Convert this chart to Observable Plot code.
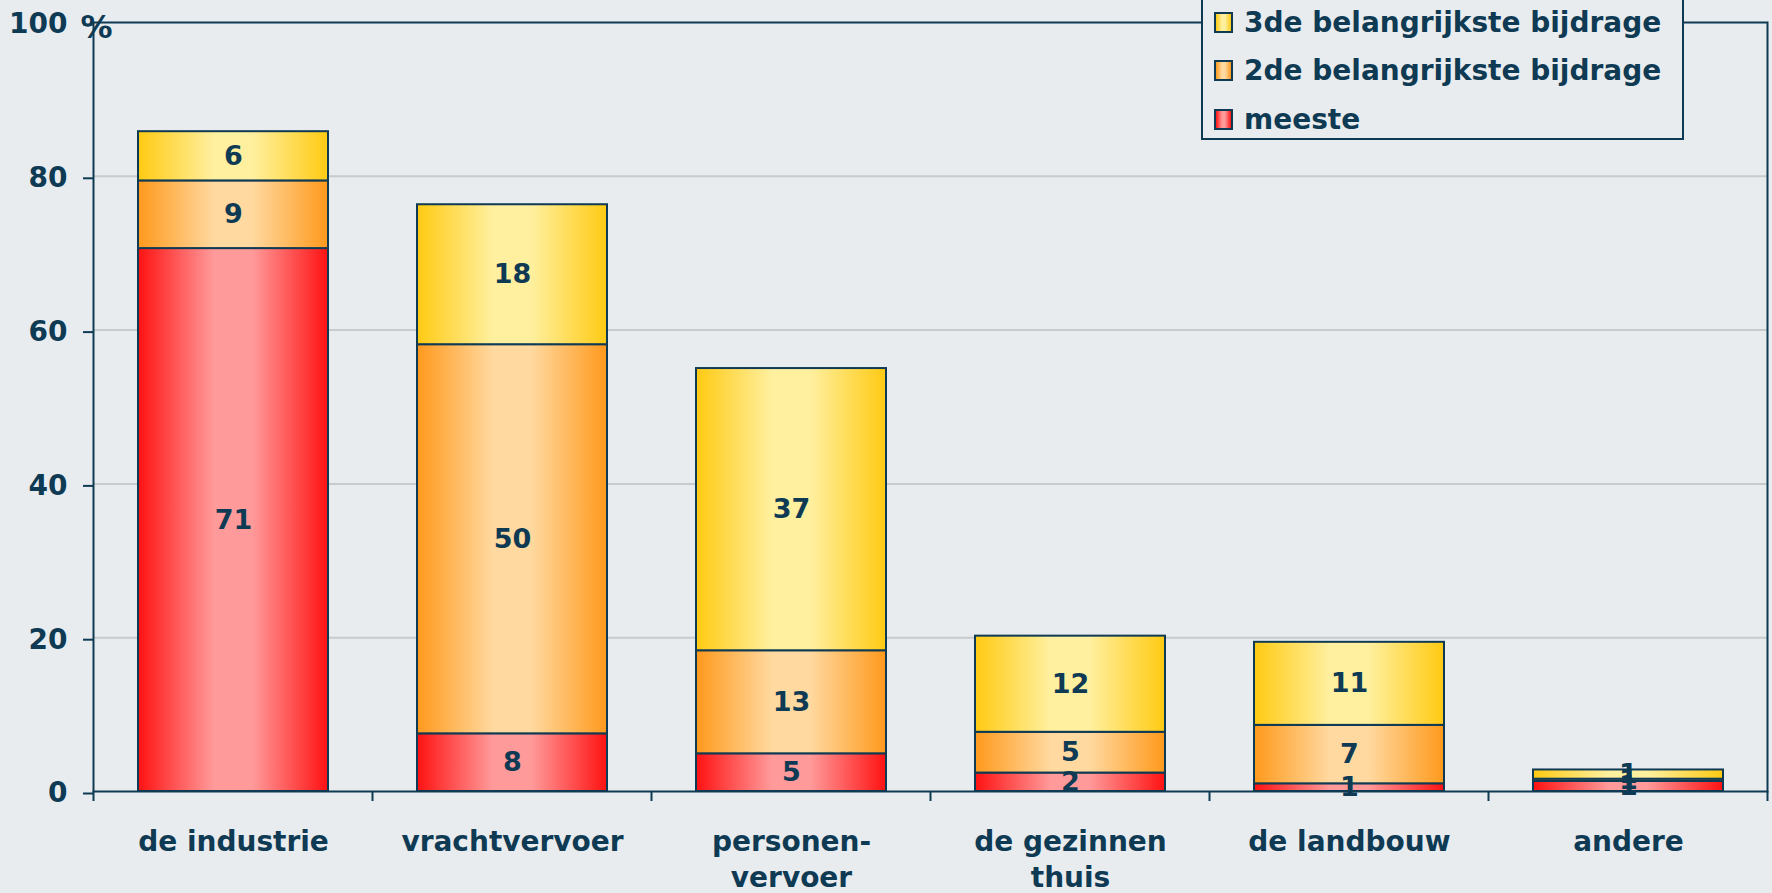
<!DOCTYPE html>
<html>
<head>
<meta charset="utf-8">
<script src="https://cdn.jsdelivr.net/npm/d3@7"></script>
<script src="https://cdn.jsdelivr.net/npm/@observablehq/plot@0.6"></script>
<style>
  html, body { margin: 0; padding: 0; background: #e8ecee; }
  #wrap { position: relative; width: 1772px; height: 893px; overflow: hidden;
          font-family: "DejaVu Sans", sans-serif; font-weight: bold; color: #0f3a54; }
  #legend { position: absolute; left: 1201px; top: -3px; width: 483px; height: 143px;
            box-sizing: border-box; border: 2px solid #0f3a54; background: #e8ecee; }
  .row { position: absolute; left: 11px; height: 30px; line-height: 30px; font-size: 28px; white-space: nowrap; }
  .sw { position: absolute; left: 0; top: 4px; width: 19px; height: 21px; box-sizing: border-box;
        border: 2px solid #0f3a54; }
  .row span.t { position: absolute; left: 30px; top: 0; }
</style>
</head>
<body>
<div id="wrap">
  <div id="chart"></div>
  <div id="legend"></div>
</div>
<script>
const categories = ["de industrie", "vrachtvervoer", "personen-\nvervoer", "de gezinnen\nthuis", "de landbouw", "andere"];
const series = ["meeste", "2de belangrijkste bijdrage", "3de belangrijkste bijdrage"];
const meeste = [70.6, 7.5, 4.9, 2.4, 1.0, 1.3];
const tweede = [8.8, 50.6, 13.4, 5.3, 7.6, 0.3];
const derde  = [6.4, 18.2, 36.7, 12.5, 10.8, 1.2];
const meesteLabels = ["71", "8", "5", "2", "1", "1"];
const tweedeLabels = ["9", "50", "13", "5", "7", "1"];
const derdeLabels  = ["6", "18", "37", "12", "11", "1"];
const yTicks = [0, 20, 40, 60, 80, 100];
const gridValues = [20, 40, 60, 80];

const navy = "#0f3a54";
const gradients = [
  {id: "gRed",    edge: "#ff1212", mid: "#ff9a9a"},
  {id: "gOrange", edge: "#ff991c", mid: "#ffd9a0"},
  {id: "gYellow", edge: "#ffca12", mid: "#fff0a0"}
];

const rows = [];
categories.forEach((c, i) => {
  rows.push({cat: c, series: series[0], value: meeste[i], label: meesteLabels[i]});
  rows.push({cat: c, series: series[1], value: tweede[i], label: tweedeLabels[i]});
  rows.push({cat: c, series: series[2], value: derde[i], label: derdeLabels[i]});
});

function defsMark() {
  const defs = d3.create("svg:defs");
  for (const g of gradients) {
    const lg = defs.append("linearGradient").attr("id", g.id)
      .attr("x1", 0).attr("x2", 1).attr("y1", 0).attr("y2", 0);
    lg.append("stop").attr("offset", 0).attr("stop-color", g.edge);
    lg.append("stop").attr("offset", 0.4).attr("stop-color", g.mid);
    lg.append("stop").attr("offset", 0.6).attr("stop-color", g.mid);
    lg.append("stop").attr("offset", 1).attr("stop-color", g.edge);
  }
  return defs.node();
}

function boundaryTicks(index, scales) {
  const x = scales.x;
  const step = typeof x.step === "function" ? x.step() : scales.scales.x.step;
  const bw = typeof x.bandwidth === "function" ? x.bandwidth() : scales.scales.x.bandwidth;
  const y0 = scales.y(0);
  const off = (step - bw) / 2;
  const bounds = categories.map(c => x(c) - off);
  bounds.push(x(categories[categories.length - 1]) + bw + off);
  const g = d3.create("svg:g");
  g.selectAll("line").data(bounds).join("line")
    .attr("x1", d => d).attr("x2", d => d)
    .attr("y1", y0).attr("y2", y0 + 10)
    .attr("stroke", navy).attr("stroke-width", 2);
  return g.node();
}

const plot = Plot.plot({
  width: 1772,
  height: 893,
  marginLeft: 93,
  marginRight: 5,
  marginTop: 22,
  marginBottom: 102,
  style: {background: "transparent", fontFamily: "DejaVu Sans", fontWeight: "bold", color: navy, overflow: "visible"},
  x: {domain: categories, paddingInner: 0.32, paddingOuter: 0.16, label: null},
  y: {domain: [0, 100], label: null},
  color: {domain: series, range: gradients.map(g => `url(#${g.id})`)},
  marks: [
    defsMark,
    Plot.ruleY(gridValues, {stroke: "#c8cacc", strokeWidth: 2}),
    Plot.barY(rows, {x: "cat", y: "value", fill: "series", stroke: navy, strokeWidth: 2}),
    Plot.text(rows, Plot.stackY({x: "cat", y: "value", z: "series", text: "label", fontSize: 27, fill: navy, fontWeight: "bold"})),
    Plot.axisY({ticks: yTicks, tickSize: 10, tickPadding: 16, fontSize: 28, dy: 2, stroke: navy, strokeWidth: 2, label: null}),
    Plot.axisX({tickSize: 0, tickPadding: 34, fontSize: 28, lineHeight: 1.29, label: null}),
    Plot.frame({stroke: navy, strokeWidth: 2}),
    boundaryTicks,
    Plot.text(["%"], {frameAnchor: "top-left", textAnchor: "start", lineAnchor: "middle", dx: -13, dy: 5, fontSize: 32, fill: navy, fontWeight: "bold"})
  ]
});
document.getElementById("chart").appendChild(plot);

// Legend (top to bottom: reversed series order)
const legend = d3.select("#legend");
const rowTops = [9, 57, 106];
series.slice().reverse().forEach((s, i) => {
  const g = gradients[series.indexOf(s)];
  const r = legend.append("div").attr("class", "row").style("top", rowTops[i] + "px");
  r.append("span").attr("class", "sw")
    .style("background", `linear-gradient(to right, ${g.edge}, ${g.mid} 40%, ${g.mid} 60%, ${g.edge})`);
  r.append("span").attr("class", "t").text(s);
});
</script>
</body>
</html>
